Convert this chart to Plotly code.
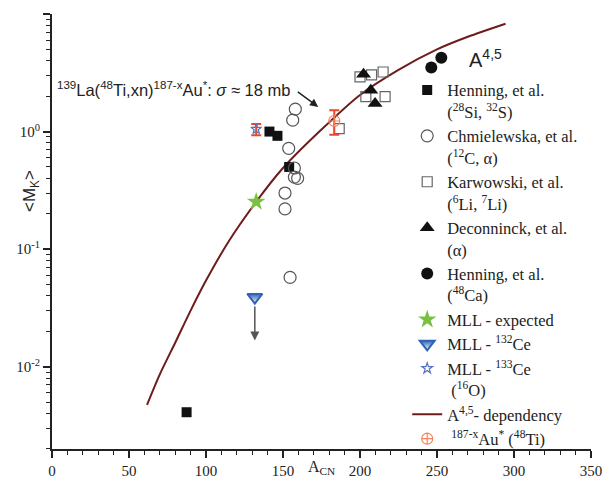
import plotly.graph_objects as go
import math

# ---- data ----
henning_si_x = [87.4, 141.2, 146.4, 154.0]
henning_si_y = [0.0041, 1.0, 0.92, 0.50]

chm_x = [158.0, 156.3, 153.7, 157.4, 157.4, 159.5, 151.3, 151.3, 154.6]
chm_y = [1.55, 1.25, 0.72, 0.49, 0.41, 0.40, 0.30, 0.22, 0.0575]

karw_x = [186.5, 200.0, 207.5, 215.0, 203.8, 216.3]
karw_y = [1.06, 2.92, 3.03, 3.21, 1.98, 1.98]

dec_x = [202.3, 207.0, 209.8]
dec_y = [3.07, 2.25, 1.73]

hen_ca_x = [246.3, 252.8]
hen_ca_y = [3.5, 4.25]

mll_exp_x = [132.6]
mll_exp_y = [0.253]

mll132_x = [131.7]
mll132_y = [0.039]
mll132_limit = [0.0167]

mll133_x = [132.6]
mll133_y = [1.05]
mll133_err_plus = [0.11]
mll133_err_minus = [0.12]

au_x = [183.3]
au_y = [1.23]
au_err_plus = [0.29]
au_err_minus = [0.29]

curve_x = [61.7, 70.0, 80.0, 90.0, 100.0, 115.0, 132.6, 150.0, 173.6,
           200.0, 225.0, 250.0, 270.0, 294.5]
curve_y = [0.00473, 0.0086, 0.0160, 0.0300, 0.0540, 0.118, 0.253, 0.490, 1.0,
           2.05, 3.35, 5.0, 6.4, 8.27]

x_ticks = [0, 50, 100, 150, 200, 250, 300, 350]
y_ticks = [0.01, 0.1, 1, 10]
y_ticktext = ["10<sup>-2</sup>", "10<sup>-1</sup>", "10<sup>0</sup>", "10<sup>1</sup>"]

SERIF = "Liberation Serif"
SANS = "Liberation Sans"
INK = "#222222"

fig = go.Figure()

# A^4.5 dependency curve
fig.add_trace(go.Scatter(
    x=curve_x, y=curve_y, mode="lines",
    line=dict(color="#6e1c1c", width=2, shape="spline", smoothing=0.8),
    name="A<sup>4,5</sup>- dependency", legendrank=9))

fig.add_trace(go.Scatter(
    x=henning_si_x, y=henning_si_y, mode="markers",
    marker=dict(symbol="square", size=10, color="#111111"),
    name="Henning, et al.<br>(<sup>28</sup>Si, <sup>32</sup>S)", legendrank=1))

fig.add_trace(go.Scatter(
    x=chm_x, y=chm_y, mode="markers",
    marker=dict(symbol="circle-open", size=12, color="#555555", line=dict(width=1.2)),
    name="Chmielewska, et al.<br>(<sup>12</sup>C, α)", legendrank=2))

fig.add_trace(go.Scatter(
    x=karw_x, y=karw_y, mode="markers",
    marker=dict(symbol="square-open", size=10, color="#666666", line=dict(width=1.2)),
    name="Karwowski, et al.<br>(<sup>6</sup>Li, <sup>7</sup>Li)", legendrank=3))

fig.add_trace(go.Scatter(
    x=dec_x, y=dec_y, mode="markers",
    marker=dict(symbol="triangle-up", size=13, color="#111111"),
    name="Deconninck, et al.<br>(α)", legendrank=4))

fig.add_trace(go.Scatter(
    x=hen_ca_x, y=hen_ca_y, mode="markers",
    marker=dict(symbol="circle", size=12, color="#111111"),
    name="Henning, et al.<br>(<sup>48</sup>Ca)", legendrank=5))

fig.add_trace(go.Scatter(
    x=mll_exp_x, y=mll_exp_y, mode="markers",
    marker=dict(symbol="star", size=14, color="#7ac143"),
    name="MLL - expected", legendrank=6))

fig.add_trace(go.Scatter(
    x=mll132_x, y=mll132_y, mode="markers",
    marker=dict(symbol="triangle-down", size=13, color="#2e63b8",
                gradient=dict(type="vertical", color="white"),
                line=dict(width=2, color="#2e63b8")),
    name="MLL - <sup>132</sup>Ce", legendrank=7))

# error bars (no legend)
fig.add_trace(go.Scatter(
    x=mll133_x, y=mll133_y, mode="markers", marker=dict(size=1, opacity=0),
    error_y=dict(type="data", array=mll133_err_plus, arrayminus=mll133_err_minus,
                 color="#e84a2e", thickness=2, width=5),
    showlegend=False, hoverinfo="skip"))
fig.add_trace(go.Scatter(
    x=au_x, y=au_y, mode="markers", marker=dict(size=1, opacity=0),
    error_y=dict(type="data", array=au_err_plus, arrayminus=au_err_minus,
                 color="#e84a2e", thickness=2, width=5),
    showlegend=False, hoverinfo="skip"))

fig.add_trace(go.Scatter(
    x=mll133_x, y=mll133_y, mode="markers",
    marker=dict(symbol="star-open", size=8, color="#5570c8", line=dict(width=1.2)),
    name="MLL - <sup>133</sup>Ce<br> (<sup>16</sup>O)", legendrank=8))

fig.add_trace(go.Scatter(
    x=au_x, y=au_y, mode="markers",
    marker=dict(symbol="circle-cross-open", size=11, color="#f4845f", line=dict(width=1.2)),
    name=" <sup>187-x</sup>Au<sup>*</sup> (<sup>48</sup>Ti)", legendrank=10))

annotations = [
    dict(x=mll132_x[0], y=math.log10(mll132_limit[0]), xref="x", yref="y",
         ax=mll132_x[0], ay=math.log10(0.0335), axref="x", ayref="y",
         text="", showarrow=True, arrowhead=2, arrowsize=1.2, arrowwidth=1.5,
         arrowcolor="#555555"),
    dict(x=172.9, y=0.21, xref="x", yref="y", ax=-22, ay=-16, text="",
         showarrow=True, arrowhead=2, arrowsize=1.1, arrowwidth=1.5, arrowcolor=INK),
    dict(x=78.7, y=0.363, xref="x", yref="y", showarrow=False,
         text="<sup>139</sup>La(<sup>48</sup>Ti,xn)<sup>187-x</sup>Au<sup>*</sup>: <i>σ</i> ≈ 18 mb",
         font=dict(family=SANS, size=16.5, color=INK)),
    dict(x=281.7, y=0.618, xref="x", yref="y", showarrow=False,
         text="A<sup>4,5</sup>", font=dict(family=SANS, size=20, color=INK)),
    dict(x=0.5, y=-0.043, xref="paper", yref="paper", showarrow=False,
         text="A<sub>CN</sub>", yanchor="middle", xanchor="center",
         font=dict(family=SERIF, size=16, color=INK)),
    dict(x=-0.038, y=0.592, xref="paper", yref="paper", showarrow=False,
         text="&lt;M<sub>K</sub>&gt;", textangle=-90, xanchor="center", yanchor="middle",
         font=dict(family=SANS, size=17, color=INK)),
]

axis_common = dict(showgrid=False, zeroline=False, showline=True, linecolor=INK,
                   linewidth=1.8, tickcolor=INK, tickwidth=1.5, automargin=False)

# page body has an 8px margin, so the figure is sized/offset to compensate
fig.update_layout(
    width=604, height=474,
    margin=dict(l=44, r=21, t=6, b=33, autoexpand=False),
    paper_bgcolor="white", plot_bgcolor="white",
    xaxis=dict(range=[0, 350], tickvals=x_ticks, ticks="outside", ticklen=7,
               tickfont=dict(family=SERIF, size=15, color=INK),
               minor=dict(dtick=10, ticks="outside", ticklen=4, tickcolor=INK, tickwidth=1.3),
               **axis_common),
    xaxis2=dict(range=[0, 350], overlaying="x", side="top", anchor="y",
                tickvals=x_ticks, ticks="inside", ticklen=8, showticklabels=False,
                minor=dict(dtick=10, ticks="inside", ticklen=4, tickcolor=INK, tickwidth=1.3),
                **axis_common),
    yaxis=dict(type="log", range=[-2.70, 1], tickvals=y_ticks, ticktext=y_ticktext,
               ticks="outside", ticklen=7,
               tickfont=dict(family=SERIF, size=15, color=INK),
               minor=dict(dtick="D1", ticks="outside", ticklen=4, tickcolor=INK, tickwidth=1.3),
               **axis_common),
    yaxis2=dict(type="log", range=[-2.70, 1], overlaying="y", side="right", anchor="x",
                tickvals=y_ticks, ticks="inside", ticklen=7, showticklabels=False,
                minor=dict(dtick="D1", ticks="inside", ticklen=4, tickcolor=INK, tickwidth=1.3),
                **axis_common),
    legend=dict(x=0.659, y=0.865, xanchor="left", yanchor="top", valign="top",
                bgcolor="rgba(0,0,0,0)", borderwidth=0, tracegroupgap=0,
                font=dict(family=SERIF, size=16.5, color=INK)),
    annotations=annotations,
    showlegend=True,
)

fig.write_html("out.html")
